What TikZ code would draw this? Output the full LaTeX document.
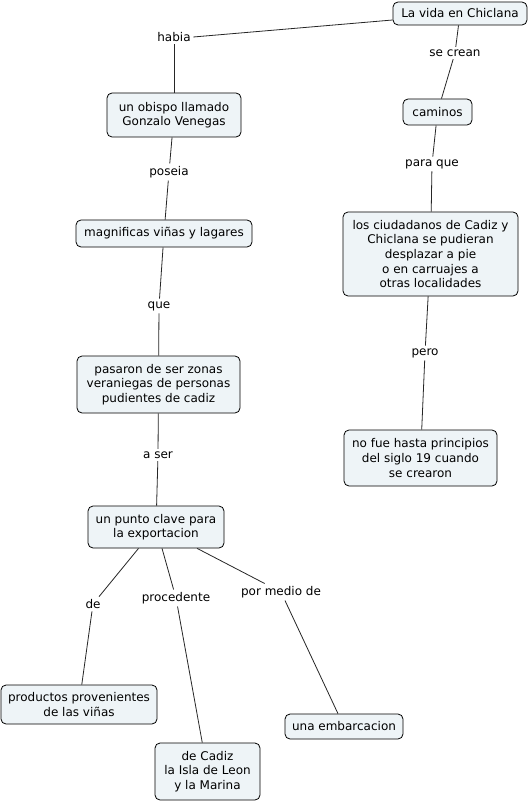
\documentclass[tikz,border=0pt]{standalone}
\usepackage{fontspec}
\setmainfont{DejaVu Sans}
\usetikzlibrary{calc}
\definecolor{cfill}{RGB}{238,244,247}
\newcommand{\cfont}{\fontsize{12}{14.6}\selectfont}
\begin{document}
\begin{tikzpicture}[x=1pt,y=-1pt,
  concept/.style={draw=black, line width=0.8pt, fill=cfill, rounded corners=5pt,
    inner sep=0pt, align=center, font=\cfont},
  lbl/.style={inner sep=2.5pt, font=\cfont},
  conn/.style={line width=0.8pt, draw=black!85}]
\fill[white] (0,0) rectangle (529,802);
\useasboundingbox (0,0) rectangle (529,802);

% concepts
\node[concept, minimum width=134pt, minimum height=23pt] (lavida) at (460,13.5) {La vida en Chiclana};
\node[concept, minimum width=134pt, minimum height=44pt] (obispo) at (174,115) {un obispo llamado\\Gonzalo Venegas};
\node[concept, minimum width=176pt, minimum height=27pt] (magn) at (164,233.5) {magnificas viñas y lagares};
\node[concept, minimum width=163pt, minimum height=57pt] (pasaron) at (158.5,384.5) {pasaron de ser zonas\\veraniegas de personas\\pudientes de cadiz};
\node[concept, minimum width=136pt, minimum height=42pt] (punto) at (156,527) {un punto clave para\\la exportacion};
\node[concept, minimum width=156pt, minimum height=39pt] (productos) at (79,704.5) {productos provenientes\\de las viñas};
\node[concept, minimum width=105pt, minimum height=57pt] (decadiz) at (207.5,771.5) {de Cadiz\\la Isla de Leon\\y la Marina};
\node[concept, minimum width=118pt, minimum height=25pt] (embarc) at (344,726.5) {una embarcacion};
\node[concept, minimum width=69pt, minimum height=26pt] (caminos) at (437.5,112) {caminos};
\node[concept, minimum width=175pt, minimum height=84pt] (ciud) at (430.5,254) {los ciudadanos de Cadiz y\\Chiclana se pudieran\\desplazar a pie\\o en carruajes a\\otras localidades};
\node[concept, minimum width=153pt, minimum height=56pt] (nofue) at (420.5,458) {no fue hasta principios\\del siglo 19 cuando\\se crearon};

% link labels
\node[lbl] (habia) at (174,37) {habia};
\node[lbl] (secrean) at (455,53) {se crean};
\node[lbl] (poseia) at (169,172) {poseia};
\node[lbl] (paraque) at (432,164) {para que};
\node[lbl] (que) at (159,306) {que};
\node[lbl] (pero) at (425,353) {pero};
\node[lbl] (aser) at (158,455) {a ser};
\node[lbl] (de) at (93,604) {de};
\node[lbl] (proc) at (176,598) {procedente};
\node[lbl] (pormedio) at (281,592) {por medio de};

% connectors
\draw[conn] ($(lavida.west)+(0,6.5)$) -- (habia.east);
\draw[conn] (habia.south) -- (obispo.north);
\draw[conn] (obispo) -- (poseia) -- (magn);
\draw[conn] (magn) -- (que) -- (pasaron);
\draw[conn] (pasaron) -- (aser) -- (punto);
\draw[conn] (punto) -- (de) -- (productos);
\draw[conn] (punto) -- (proc) -- (decadiz);
\draw[conn] (punto) -- (pormedio) -- (embarc);
\draw[conn] (lavida) -- (secrean) -- (caminos);
\draw[conn] (caminos) -- (paraque) -- (ciud);
\draw[conn] (ciud) -- (pero) -- (nofue);
\end{tikzpicture}
\end{document}
